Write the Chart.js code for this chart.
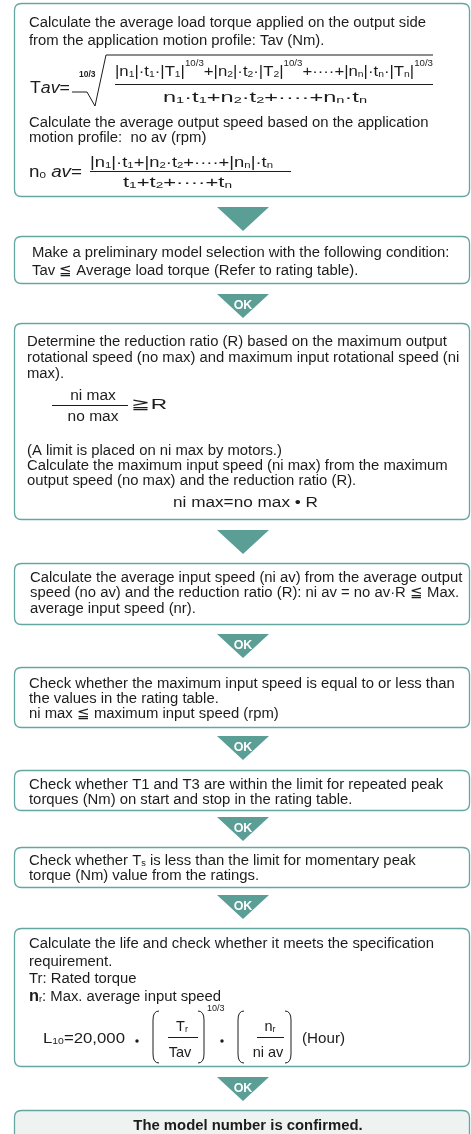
<!DOCTYPE html>
<html>
<head>
<meta charset="utf-8">
<script src="https://cdn.jsdelivr.net/npm/chart.js@4.4.1/dist/chart.umd.min.js"></script>
<style>
    html, body { margin: 0; padding: 0; background: #fff; }
    #wrap { width: 471px; height: 1134px; }
</style>
</head>
<body>
<div id="wrap"><canvas id="flowChart" width="471" height="1134"></canvas></div>
<script>
// flow.js - selection flowchart drawn on a Chart.js canvas

const FONT = '"Liberation Sans", Arial, Helvetica, sans-serif';
const TEXT_COLOR = '#1c1c1c';
const TEAL = '#5a9e96';
const BORDER = '#64a7a0';
const BODY_SIZE = 14.85;

// Body text of each step
const stepLines = [
    ['Calculate the average load torque applied on the output side',
     'from the application motion profile: Tav (Nm).',
     'Calculate the average output speed based on the application',
     'motion profile:  no av (rpm)'],
    ['Make a preliminary model selection with the following condition:',
     'Tav \u2266 Average load torque (Refer to rating table).'],
    ['Determine the reduction ratio (R) based on the maximum output',
     'rotational speed (no max) and maximum input rotational speed (ni',
     'max).',
     '(A limit is placed on ni max by motors.)',
     'Calculate the maximum input speed (ni max) from the maximum',
     'output speed (no max) and the reduction ratio (R).'],
    ['Calculate the average input speed (ni av) from the average output',
     'speed (no av) and the reduction ratio (R): ni av = no av\u00b7R \u2266 Max.',
     'average input speed (nr).'],
    ['Check whether the maximum input speed is equal to or less than',
     'the values in the rating table.',
     'ni max \u2266 maximum input speed (rpm)'],
    ['Check whether T1 and T3 are within the limit for repeated peak',
     'torques (Nm) on start and stop in the rating table.'],
    [[['Check whether T', 'n'], ['s', 's'], [' is less than the limit for momentary peak', 'n']],
     'torque (Nm) value from the ratings.'],
    ['Calculate the life and check whether it meets the specification',
     'requirement.',
     'Tr: Rated torque',
     [['n', 'B'], ['r', 's'], [': Max. average input speed', 'n']]]
];

// Label inside each down arrow
const arrowLabels = ['', 'OK', '', 'OK', 'OK', 'OK', 'OK', 'OK'];
const resultLabel = 'The model number is confirmed.';

// Formula texts
const tavLeft = [['T', 'n'], ['av', 'i'], ['=', 'n']];
const tavRootIndex = '10/3';
const tavNumer = [['|n', 'n'], ['1', 's'], ['|\u00b7t', 'n'], ['1', 's'], ['\u00b7|T', 'n'], ['1', 's'], ['|', 'n'], ['10/3', 'p'],
    ['+|n', 'n'], ['2', 's'], ['|\u00b7t', 'n'], ['2', 's'], ['\u00b7|T', 'n'], ['2', 's'], ['|', 'n'], ['10/3', 'p'],
    ['+\u00b7\u00b7\u00b7\u00b7+|n', 'n'], ['n', 's'], ['|\u00b7t', 'n'], ['n', 's'], ['\u00b7|T', 'n'], ['n', 's'], ['|', 'n'], ['10/3', 'p']];
const tavDenom = [['n', 'n'], ['1', 's'], ['\u00b7t', 'n'], ['1', 's'], ['+n', 'n'], ['2', 's'], ['\u00b7t', 'n'], ['2', 's'],
    ['+\u00b7\u00b7\u00b7\u00b7+n', 'n'], ['n', 's'], ['\u00b7t', 'n'], ['n', 's']];
const noavLeft = [['n', 'n'], ['0', 's'], [' ', 'n'], ['av', 'i'], ['=', 'n']];
const noavNumer = [['|n', 'n'], ['1', 's'], ['|\u00b7t', 'n'], ['1', 's'], ['+|n', 'n'], ['2', 's'], ['\u00b7t', 'n'], ['2', 's'],
    ['+\u00b7\u00b7\u00b7\u00b7+|n', 'n'], ['n', 's'], ['|\u00b7t', 'n'], ['n', 's']];
const noavDenom = [['t', 'n'], ['1', 's'], ['+t', 'n'], ['2', 's'], ['+\u00b7\u00b7\u00b7\u00b7+t', 'n'], ['n', 's']];
const ratioNumer = 'ni max';
const ratioDenom = 'no max';
const ratioRel = '\u2267R';
const niMaxEq = 'ni max=no max \u2022 R';
const lifeLeft = [['L', 'n'], ['10', 's'], ['=20,000', 'n']];
const lifeTorqueNumer = [['T', 'n'], ['r', 's']];
const lifeTorqueDenom = 'Tav';
const lifeExponent = '10/3';
const lifeSpeedNumer = [['n', 'n'], ['r', 's']];
const lifeSpeedDenom = 'ni av';
const lifeUnit = '(Hour)';

// Layout of the boxes (top, bottom, text x, line centres)
const boxLayout = [
    { top: 3, bottom: 197, x: 29, ys: [22, 40, 122, 137] },
    { top: 236, bottom: 284, x: 32, ys: [252, 270] },
    { top: 323, bottom: 520, x: 27, ys: [341, 357, 373, 450, 465, 480] },
    { top: 563, bottom: 625, x: 30, ys: [577, 592, 608] },
    { top: 667, bottom: 728, x: 29, ys: [683, 698, 713] },
    { top: 770, bottom: 811, x: 29, ys: [784, 799] },
    { top: 847, bottom: 888, x: 29, ys: [860, 875] },
    { top: 928, bottom: 1067, x: 29, ys: [943, 961, 978, 996] }
];
const arrowTops = [207, 294, 530, 634, 736, 817, 895, 1077];

// Draw a run of text segments; styles: n normal, i italic, B bold, s subscript, p superscript
function drawRich(ctx, segs, x, baseY, size, opts = {}) {
    const parts = segs.map(([t, s]) => {
        let f = `${size}px ${FONT}`;
        let dy = 0;
        if (s === 's') { f = `${size * 0.62}px ${FONT}`; dy = size * 0.06; }
        else if (s === 'p') { f = `${size * 0.58}px ${FONT}`; dy = -size * 0.66; }
        else if (s === 'i') f = `italic ${size}px ${FONT}`;
        else if (s === 'B') f = `bold ${size * 1.1}px ${FONT}`;
        ctx.font = f;
        return { t, f, dy, w: ctx.measureText(t).width };
    });
    const total = parts.reduce((a, p) => a + p.w, 0);
    const w = opts.width || total;
    const sx = w / total;
    let start = x;
    if (opts.align === 'center') start = x - w / 2;
    ctx.save();
    ctx.translate(start, baseY);
    ctx.scale(sx, 1);
    let cx = 0;
    parts.forEach(p => {
        ctx.font = p.f;
        ctx.fillText(p.t, cx, p.dy);
        cx += p.w;
    });
    ctx.restore();
}

function roundBox(ctx, x0, y0, x1, y1, r) {
    ctx.beginPath();
    ctx.moveTo(x0 + r, y0);
    ctx.lineTo(x1 - r, y0);
    ctx.quadraticCurveTo(x1, y0, x1, y0 + r);
    ctx.lineTo(x1, y1 - r);
    ctx.quadraticCurveTo(x1, y1, x1 - r, y1);
    ctx.lineTo(x0 + r, y1);
    ctx.quadraticCurveTo(x0, y1, x0, y1 - r);
    ctx.lineTo(x0, y0 + r);
    ctx.quadraticCurveTo(x0, y0, x0 + r, y0);
    ctx.closePath();
}

function paren(ctx, x, top, bottom, dir) {
    ctx.beginPath();
    ctx.moveTo(x + 6 * dir, top);
    ctx.quadraticCurveTo(x, top, x, top + 9);
    ctx.lineTo(x, bottom - 9);
    ctx.quadraticCurveTo(x, bottom, x + 6 * dir, bottom);
    ctx.stroke();
}

const flowPlugin = {
    id: 'flow',
    afterDraw(chart) {
        const { ctx } = chart;
        const sx = chart.scales.x;
        const sy = chart.scales.y;
        const X = v => sx.getPixelForValue(v);
        const Y = v => sy.getPixelForValue(v);
        const left = X(14);
        const right = X(470);

        ctx.save();
        ctx.textBaseline = 'alphabetic';
        ctx.textAlign = 'left';

        // Step boxes
        boxLayout.forEach((b, i) => {
            roundBox(ctx, left + 0.5, Y(b.top) + 0.5, right - 0.5, Y(b.bottom) - 0.5, 7);
            ctx.fillStyle = '#ffffff';
            ctx.fill();
            ctx.lineWidth = 1.3;
            ctx.strokeStyle = BORDER;
            ctx.stroke();

            ctx.fillStyle = TEXT_COLOR;
            stepLines[i].forEach((line, j) => {
                const base = Y(b.ys[j]) + 5;
                if (typeof line === 'string') {
                    ctx.font = `${BODY_SIZE}px ${FONT}`;
                    ctx.fillText(line, X(b.x), base);
                } else {
                    drawRich(ctx, line, X(b.x), base, BODY_SIZE);
                }
            });
        });

        ctx.fillStyle = TEXT_COLOR;
        ctx.strokeStyle = TEXT_COLOR;
        ctx.lineWidth = 1;

        // Tav formula
        drawRich(ctx, tavLeft, X(30), Y(93), 16, { width: 40 });
        ctx.beginPath();
        ctx.moveTo(X(72), Y(92));
        ctx.lineTo(X(87), Y(92));
        ctx.lineTo(X(95), Y(106));
        ctx.lineTo(X(106), Y(55));
        ctx.lineTo(X(433), Y(55));
        ctx.stroke();
        ctx.font = `bold 8.5px ${FONT}`;
        ctx.fillText(tavRootIndex, X(79), Y(77));
        drawRich(ctx, tavNumer, X(115), Y(76), 14.5, { width: 318 });
        ctx.beginPath();
        ctx.moveTo(X(115), Y(84.5));
        ctx.lineTo(X(433), Y(84.5));
        ctx.stroke();
        drawRich(ctx, tavDenom, X(163), Y(102), 15.5, { width: 204 });

        // no av formula
        drawRich(ctx, noavLeft, X(29), Y(177), 16, { width: 53 });
        drawRich(ctx, noavNumer, X(90), Y(167), 14.5, { width: 183 });
        ctx.beginPath();
        ctx.moveTo(X(90), Y(171.5));
        ctx.lineTo(X(291), Y(171.5));
        ctx.stroke();
        drawRich(ctx, noavDenom, X(123), Y(187), 15.5, { width: 109 });

        // reduction ratio
        drawRich(ctx, [[ratioNumer, 'n']], X(93), Y(400), 15.5, { align: 'center' });
        ctx.beginPath();
        ctx.moveTo(X(52), Y(405.5));
        ctx.lineTo(X(128), Y(405.5));
        ctx.stroke();
        drawRich(ctx, [[ratioDenom, 'n']], X(93), Y(421), 15.5, { align: 'center' });
        drawRich(ctx, [[ratioRel, 'n']], X(131), Y(409), 15, { width: 36 });
        drawRich(ctx, [[niMaxEq, 'n']], X(173), Y(507), 15.5, { width: 145 });

        // life formula
        drawRich(ctx, lifeLeft, X(43), Y(1043), 15, { width: 82 });
        [137, 222].forEach(d => {
            ctx.beginPath();
            ctx.arc(X(d), Y(1041), 1.7, 0, Math.PI * 2);
            ctx.fill();
        });
        paren(ctx, X(153), Y(1011), Y(1063), 1);
        paren(ctx, X(204), Y(1011), Y(1063), -1);
        drawRich(ctx, lifeTorqueNumer, X(182), Y(1031), 14.5, { align: 'center' });
        ctx.beginPath();
        ctx.moveTo(X(168), Y(1037.5));
        ctx.lineTo(X(198), Y(1037.5));
        ctx.stroke();
        drawRich(ctx, [[lifeTorqueDenom, 'n']], X(180), Y(1057), 14.5, { align: 'center' });
        ctx.font = `9px ${FONT}`;
        ctx.fillText(lifeExponent, X(207), Y(1011));
        paren(ctx, X(238), Y(1011), Y(1063), 1);
        paren(ctx, X(291), Y(1011), Y(1063), -1);
        drawRich(ctx, lifeSpeedNumer, X(270), Y(1031), 14.5, { align: 'center' });
        ctx.beginPath();
        ctx.moveTo(X(257), Y(1037.5));
        ctx.lineTo(X(284), Y(1037.5));
        ctx.stroke();
        drawRich(ctx, [[lifeSpeedDenom, 'n']], X(268), Y(1057), 14.5, { align: 'center' });
        drawRich(ctx, [[lifeUnit, 'n']], X(302), Y(1043), 14.5, { width: 43 });

        // Arrows
        arrowTops.forEach((top, i) => {
            const cx = X(243);
            ctx.beginPath();
            ctx.moveTo(cx - 26, Y(top));
            ctx.lineTo(cx + 26, Y(top));
            ctx.lineTo(cx, Y(top + 24));
            ctx.closePath();
            ctx.fillStyle = TEAL;
            ctx.fill();
            if (arrowLabels[i]) {
                ctx.fillStyle = '#ffffff';
                ctx.font = `bold 12.5px ${FONT}`;
                ctx.textAlign = 'center';
                ctx.fillText(arrowLabels[i], cx, Y(top + 14.5));
                ctx.textAlign = 'left';
            }
        });

        // Result box
        roundBox(ctx, left + 0.5, Y(1110) + 0.5, right - 0.5, Y(1150), 7);
        ctx.fillStyle = '#eef2f1';
        ctx.fill();
        ctx.lineWidth = 1.3;
        ctx.strokeStyle = BORDER;
        ctx.stroke();
        ctx.fillStyle = TEXT_COLOR;
        ctx.font = `bold ${BODY_SIZE}px ${FONT}`;
        ctx.textAlign = 'center';
        ctx.fillText(resultLabel, X(248), Y(1125) + 5);

        ctx.restore();
    }
};

new Chart(document.getElementById('flowChart'), {
    type: 'scatter',
    data: { datasets: [] },
    options: {
        responsive: false,
        animation: false,
        events: [],
        layout: { padding: 0 },
        plugins: {
            legend: { display: false },
            tooltip: { enabled: false }
        },
        scales: {
            x: { type: 'linear', min: 0, max: 471, display: false },
            y: { type: 'linear', min: 0, max: 1134, reverse: true, display: false }
        }
    },
    plugins: [flowPlugin]
});
</script>
</body>
</html>
